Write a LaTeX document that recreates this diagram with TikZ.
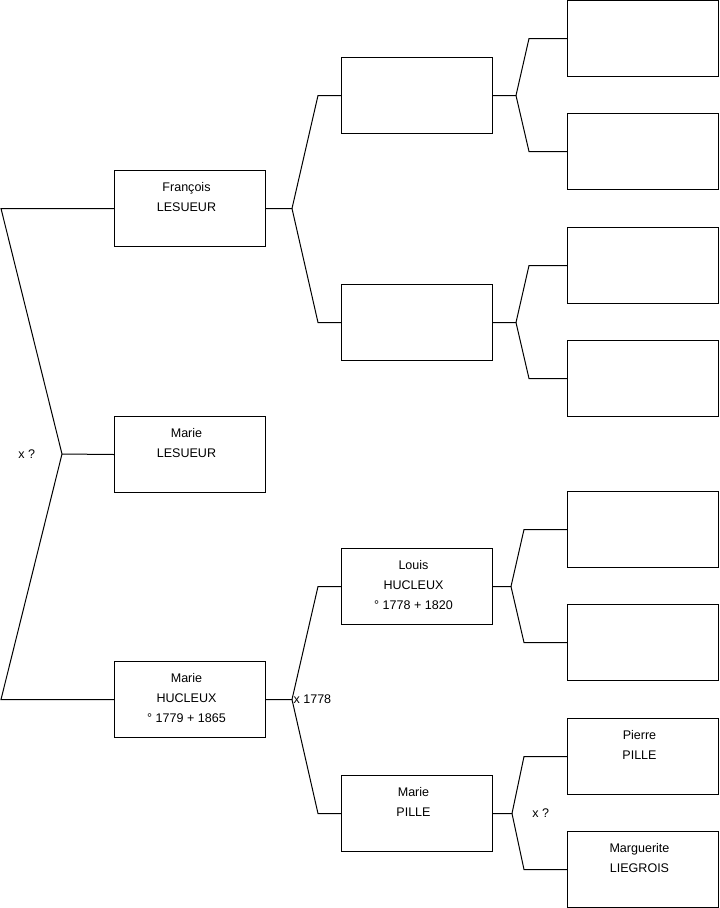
\documentclass[tikz,border=0pt]{standalone}
\usepackage{fontspec}
\setmainfont{Liberation Sans}
\usetikzlibrary{positioning,calc}
\newlength{\px}
\setlength{\px}{0.75pt}
\tikzset{
  x=\px, y=-\px,
  link/.style = {line width=0.75pt},
  person/.style = {rectangle, draw, line width=0.75pt, inner sep=0pt,
   anchor=north west},
  mark label/.style = {inner sep=1pt},
}
% box text sits at the top of the box, a little left of centre
\newcommand{\who}[1]{\makebox[151\px][l]{\parbox[c][76\px][t]{144\px}{\centering\rule{0pt}{15.9pt}#1}}}

\begin{document}
\begin{tikzpicture}[font=\fontsize{9.4}{15}\selectfont]
  \useasboundingbox (0,0) rectangle (719,908);
  % generation 1
  \node (F)  [person] at (114,170) {\who{François\\LESUEUR}};
  \node (ML) [person] at (114,416) {\who{Marie\\LESUEUR}};
  \node (MH) [person] at (114,661) {\who{Marie\\HUCLEUX\\° 1779 + 1865}};
  % generation 2
  \node (FF) [person] at (341,57)  {\who{}};
  \node (FM) [person] at (341,284) {\who{}};
  \node (L)  [person] at (341,548) {\who{Louis\\HUCLEUX\\° 1778 + 1820}};
  \node (MP) [person] at (341,775) {\who{Marie\\PILLE}};
  % generation 3
  \node (FFF) [person] at (567,0)   {\who{}};
  \node (FFM) [person] at (567,113) {\who{}};
  \node (FMF) [person] at (567,227) {\who{}};
  \node (FMM) [person] at (567,340) {\who{}};
  \node (LF)  [person] at (567,491) {\who{}};
  \node (LM)  [person] at (567,604) {\who{}};
  \node (PP)  [person] at (567,718) {\who{Pierre\\PILLE}};
  \node (MG)  [person] at (567,831) {\who{Marguerite\\LIEGROIS}};

  % couple F / MH
  \coordinate [label={[mark label, label distance=19pt]left:x ?}] (bX) at (62,454);
  \draw[link] (F.west) -- ([xshift=-113\px]F.west) -- (bX)
    -- ([xshift=-113\px]MH.west) -- (MH.west);
  \draw[link] (bX) -- (ML.west);

  % parents of F
  \draw[link] (F.east) -- ++(26,0) coordinate (bF)
    -- ([xshift=-23\px]FF.west) -- (FF.west);
  \draw[link] (bF) -- ([xshift=-23\px]FM.west) -- (FM.west);
  % parents of MH
  \draw[link] (MH.east) -- ++(26,0) coordinate (bMH)
    -- ([xshift=-23\px]L.west) -- (L.west);
  \draw[link] (bMH) -- ([xshift=-23\px]MP.west) -- (MP.west);
  \node [mark label, anchor=west] at (bMH) {x 1778};

  % generation 3 links
  \draw[link] (FF.east) -- ++(23,0) coordinate (bFF)
    -- ([xshift=-38\px]FFF.west) -- (FFF.west);
  \draw[link] (bFF) -- ([xshift=-38\px]FFM.west) -- (FFM.west);
  \draw[link] (FM.east) -- ++(23,0) coordinate (bFM)
    -- ([xshift=-38\px]FMF.west) -- (FMF.west);
  \draw[link] (bFM) -- ([xshift=-38\px]FMM.west) -- (FMM.west);
  \draw[link] (L.east) -- ++(18,0) coordinate (bL)
    -- ([xshift=-43\px]LF.west) -- (LF.west);
  \draw[link] (bL) -- ([xshift=-43\px]LM.west) -- (LM.west);
  \draw[link] (MP.east) -- ++(19,0) coordinate (bMP)
    -- ([xshift=-43\px]PP.west) -- (PP.west);
  \draw[link] (bMP) -- ([xshift=-43\px]MG.west) -- (MG.west);
  \node [mark label, anchor=west, xshift=14pt] at (bMP) {x ?};
\end{tikzpicture}
\end{document}
